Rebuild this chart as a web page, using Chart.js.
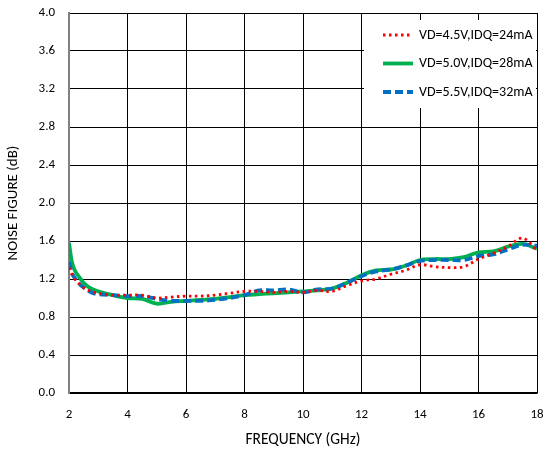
<!DOCTYPE html>
<html>
<head>
<meta charset="utf-8">
<script src="https://cdn.jsdelivr.net/npm/chart.js@4/dist/chart.umd.min.js"></script>
<style>
  html, body { margin: 0; padding: 0; background: #fff; }
  #wrap { width: 543px; height: 453px; }
</style>
</head>
<body>
<div id="wrap"><canvas id="nf" width="543" height="453"></canvas></div>
<script>
// Frequency points (GHz)
const freqGHz = [2, 2.1, 2.2, 2.35, 2.5, 2.75, 3, 3.5, 4, 4.5, 5, 5.5, 6, 6.5, 7, 7.5, 8, 8.5, 9, 9.5,
  10, 10.5, 11, 11.5, 12, 12.5, 13, 13.5, 14, 14.5, 15, 15.5, 16, 16.5, 17, 17.5, 18];

// Noise figure (dB) per bias condition
const nf45 = [1.32, 1.25, 1.20, 1.15, 1.11, 1.07, 1.05, 1.03, 1.03, 1.03, 1.00, 1.01, 1.02, 1.02, 1.03, 1.05, 1.07, 1.07, 1.06, 1.07,
  1.06, 1.08, 1.07, 1.13, 1.18, 1.20, 1.25, 1.29, 1.35, 1.33, 1.32, 1.33, 1.41, 1.47, 1.54, 1.63, 1.50];
const nf50 = [1.58, 1.38, 1.29, 1.22, 1.16, 1.10, 1.07, 1.03, 1.00, 0.99, 0.94, 0.96, 0.97, 0.98, 0.99, 1.01, 1.03, 1.04, 1.05, 1.06,
  1.07, 1.08, 1.10, 1.16, 1.24, 1.29, 1.30, 1.34, 1.40, 1.41, 1.41, 1.43, 1.48, 1.49, 1.54, 1.57, 1.52];
const nf55 = [1.38, 1.26, 1.21, 1.15, 1.11, 1.06, 1.04, 1.03, 1.02, 1.02, 0.99, 0.97, 0.97, 0.97, 0.98, 1.00, 1.03, 1.08, 1.08, 1.09,
  1.06, 1.09, 1.10, 1.16, 1.23, 1.28, 1.30, 1.34, 1.39, 1.40, 1.40, 1.40, 1.44, 1.46, 1.51, 1.56, 1.55];

const seriesLabels = ['VD=4.5V,IDQ=24mA', 'VD=5.0V,IDQ=28mA', 'VD=5.5V,IDQ=32mA'];
const xTicks = [2, 4, 6, 8, 10, 12, 14, 16, 18];
const yTicks = [0, 0.4, 0.8, 1.2, 1.6, 2.0, 2.4, 2.8, 3.2, 3.6, 4.0];

const FONT = 'Calibri, Carlito, Lato, sans-serif';
const toPoints = vals => freqGHz.map((f, i) => ({ x: f, y: vals[i] }));

// Legend drawn inside the plot, top-right, on a white panel
const insideLegend = {
  id: 'insideLegend',
  afterDatasetsDraw(chart) {
    const { ctx, chartArea } = chart;
    const px = chartArea.right - 173, py = chartArea.top + 7;
    const x0 = chartArea.right - 162;
    ctx.save();
    ctx.fillStyle = '#ffffff';
    ctx.fillRect(px, py, chartArea.right - px - 1, 88);
    chart.data.datasets.forEach((ds, i) => {
      const y = chartArea.top + 22 + i * 28.5;
      ctx.beginPath();
      ctx.strokeStyle = ds.borderColor;
      ctx.lineWidth = ds.borderWidth;
      ctx.setLineDash(ds.borderDash || []);
      ctx.moveTo(x0 + 8, y);
      ctx.lineTo(x0 + 38, y);
      ctx.stroke();
      ctx.setLineDash([]);
      ctx.fillStyle = '#000000';
      ctx.font = '14px ' + FONT;
      ctx.textBaseline = 'middle';
      ctx.fillText(ds.label, x0 + 44, y, 114);
    });
    ctx.restore();
  }
};

new Chart(document.getElementById('nf'), {
  type: 'line',
  data: {
    datasets: [
      { label: seriesLabels[0], data: toPoints(nf45), borderColor: '#ff0000', borderWidth: 2.8, borderDash: [2.5, 3.5], order: 1 },
      { label: seriesLabels[1], data: toPoints(nf50), borderColor: '#00b050', borderWidth: 3.8, order: 3 },
      { label: seriesLabels[2], data: toPoints(nf55), borderColor: '#0070c0', borderWidth: 3.8, borderDash: [8, 4], order: 2 }
    ]
  },
  options: {
    responsive: false,
    animation: false,
    layout: { padding: { top: 13, right: 6, left: 0, bottom: 0 } },
    elements: { point: { radius: 0 }, line: { tension: 0.35, fill: false } },
    plugins: { legend: { display: false }, tooltip: { enabled: false } },
    scales: {
      x: {
        type: 'linear', min: 2, max: 18,
        afterBuildTicks: s => { s.ticks = xTicks.map(v => ({ value: v })); },
        afterFit: s => { s.height = 60; s.paddingLeft = 0; s.paddingRight = 0; },
        grid: { color: '#000000', lineWidth: 1, drawTicks: false },
        border: { color: '#000000', width: 1.5 },
        ticks: { color: '#000000', padding: 14, maxRotation: 0, font: { family: FONT, size: 13 }, callback: v => String(v) },
        title: { display: true, text: 'FREQUENCY (GHz)', color: '#000000', padding: { top: 5 }, font: { family: FONT, size: 15.5 } }
      },
      y: {
        min: 0, max: 4,
        afterBuildTicks: s => { s.ticks = yTicks.map(v => ({ value: v })); },
        afterFit: s => { s.width = 69; s.paddingTop = 0; s.paddingBottom = 0; },
        grid: { color: '#000000', lineWidth: 1, drawTicks: false },
        border: { color: '#808080', width: 2 },
        ticks: { color: '#000000', padding: 14, font: { family: FONT, size: 13 }, callback: v => v.toFixed(1) },
        title: { display: true, text: 'NOISE FIGURE (dB)', color: '#000000', padding: { bottom: 4 }, font: { family: FONT, size: 15 } }
      }
    }
  },
  plugins: [insideLegend]
});
</script>
</body>
</html>
